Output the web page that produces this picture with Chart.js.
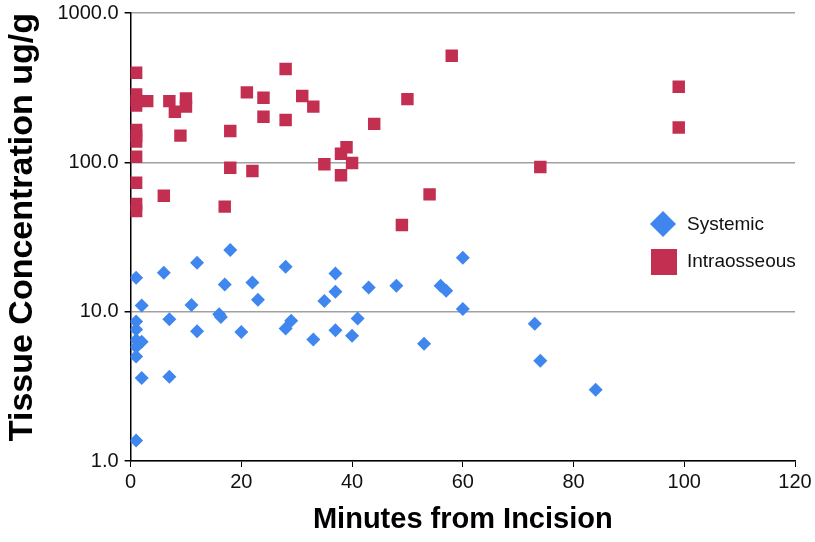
<!DOCTYPE html>
<html>
<head>
<meta charset="utf-8">
<script src="https://cdn.jsdelivr.net/npm/chart.js@4/dist/chart.umd.min.js"></script>
<style>
  html, body { margin: 0; padding: 0; background: #fff; }
  #wrap { width: 815px; height: 542px; position: relative; }
</style>
</head>
<body>
<div id="wrap"><canvas id="tissueChart"></canvas></div>
<script>
// minutes from incision / concentration (ug/g)
var systemicX = [1, 2, 1, 1, 1, 2, 1, 1, 2, 1, 6, 7, 7, 12, 11, 12, 18, 17, 16, 16.3, 20, 22, 23, 28, 28, 29, 33, 35, 37, 37, 37, 40, 41, 43, 48, 53, 56, 57, 60, 60, 73, 74, 84];
var systemicY = [16.9, 11.0, 8.6, 7.6, 6.45, 6.3, 5.8, 5.0, 3.6, 1.37, 18.2, 8.9, 3.66, 21.3, 11.1, 7.4, 25.9, 15.2, 9.6, 9.2, 7.3, 15.7, 12.0, 20.0, 7.7, 8.7, 6.5, 11.8, 18.0, 13.6, 7.5, 6.9, 9.0, 14.5, 14.9, 6.1, 14.9, 13.8, 23.0, 10.4, 8.3, 4.7, 3.0];

var intraX = [1, 1, 1, 1, 1, 1, 1, 1, 1, 1, 1, 3, 7, 8, 10, 10, 9, 6, 18, 18, 17, 21, 24, 24, 22, 28, 28, 31, 33, 35, 39, 38, 40, 38, 44, 50, 58, 54, 49, 99, 99, 74];
var intraY = [398, 285, 260, 240, 165, 150, 138, 109, 73, 52.6, 47.2, 257, 257, 218, 268, 236, 151, 59.7, 162, 92, 50.5, 294, 271, 202, 87.5, 422, 192, 278, 236, 97, 126, 114, 99, 82, 181, 265, 518, 61, 38, 321, 171, 93];

var xTicks = [0, 20, 40, 60, 80, 100, 120];
var yTicks = [1, 10, 100, 1000];

var seriesNames = ["Systemic", "Intraosseous"];
var blue = "#3f86ee";
var red = "#c32f51";

function toPoints(xs, ys) {
  var pts = [];
  for (var i = 0; i < xs.length; i++) pts.push({ x: xs[i], y: ys[i] });
  return pts;
}

// legend drawn inside the plot, to the right
var sideLegend = {
  id: "sideLegend",
  afterDraw: function (chart) {
    var ctx = chart.ctx;
    ctx.save();
    ctx.font = "19px 'Liberation Sans', Arial, sans-serif";
    ctx.textBaseline = "middle";
    // diamond
    ctx.fillStyle = blue;
    ctx.beginPath();
    ctx.moveTo(663, 211);
    ctx.lineTo(676, 224);
    ctx.lineTo(663, 237);
    ctx.lineTo(650, 224);
    ctx.closePath();
    ctx.fill();
    // square
    ctx.fillStyle = red;
    ctx.fillRect(651, 249, 26, 26);
    ctx.fillStyle = "#111";
    ctx.fillText(seriesNames[0], 687, 225);
    ctx.fillText(seriesNames[1], 687, 262);
    ctx.restore();
  },
};

var ctx = document.getElementById("tissueChart").getContext("2d");
var chart = new Chart(ctx, {
  type: "scatter",
  data: {
    datasets: [
      {
        label: seriesNames[0],
        data: toPoints(systemicX, systemicY),
        pointStyle: "rectRot",
        pointRadius: 7,
        pointHoverRadius: 7,
        backgroundColor: blue,
        borderColor: blue,
        borderWidth: 0,
      },
      {
        label: seriesNames[1],
        data: toPoints(intraX, intraY),
        pointStyle: "rect",
        pointRadius: 8.8,
        pointHoverRadius: 8.8,
        backgroundColor: red,
        borderColor: red,
        borderWidth: 0,
      },
    ],
  },
  options: {
    responsive: true,
    maintainAspectRatio: false,
    animation: false,
    layout: { padding: { left: 0, right: 20, top: 13, bottom: 0 } },
    plugins: {
      legend: { display: false },
      tooltip: { enabled: false },
    },
    scales: {
      x: {
        type: "linear",
        min: 0,
        max: 120,
        afterBuildTicks: function (scale) {
          scale.ticks = xTicks.map(function (v) { return { value: v }; });
        },
        afterFit: function (scale) { scale.height = 81; },
        grid: {
          drawOnChartArea: false,
          drawTicks: true,
          tickLength: 6,
          tickColor: "#000",
        },
        border: { color: "#000", width: 1.5 },
        ticks: {
          color: "#111",
          padding: 3,
          maxRotation: 0,
          font: { family: "'Liberation Sans', Arial, sans-serif", size: 20 },
        },
        title: {
          display: true,
          text: "Minutes from Incision",
          color: "#000",
          padding: { top: 0, bottom: 5 },
          font: { family: "'Liberation Sans', Arial, sans-serif", size: 29, weight: "bold" },
        },
      },
      y: {
        type: "logarithmic",
        min: 1,
        max: 1000,
        afterBuildTicks: function (scale) {
          scale.ticks = yTicks.map(function (v) { return { value: v, major: true }; });
        },
        afterFit: function (scale) {
          scale.width = 130.6;
          scale.paddingTop = 0;
          scale.paddingBottom = 0;
        },
        grid: {
          color: "#a0a0a0",
          lineWidth: 1.5,
          tickLength: 6,
          tickColor: "#000",
        },
        border: { color: "#000", width: 1.5 },
        ticks: {
          color: "#111",
          padding: 6,
          font: { family: "'Liberation Sans', Arial, sans-serif", size: 20 },
          callback: function (v) { return Number(v).toFixed(1); },
        },
        title: {
          display: true,
          text: "Tissue Concentration ug/g",
          color: "#000",
          align: "end",
          padding: { top: 2, bottom: 0 },
          font: { family: "'Liberation Sans', Arial, sans-serif", size: 34, weight: "bold" },
        },
      },
    },
  },
  plugins: [sideLegend],
});
</script>
</body>
</html>
